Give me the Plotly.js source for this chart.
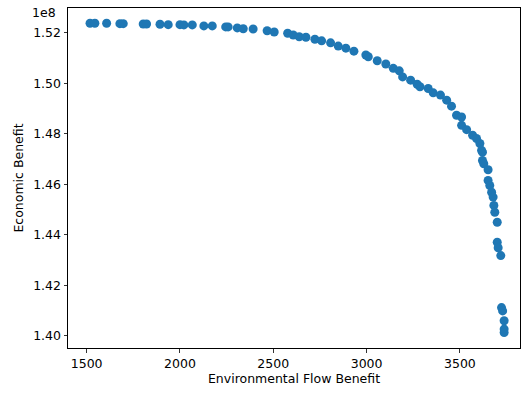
<!DOCTYPE html>
<html>
<head>
<meta charset="utf-8">
<script src="https://cdn.plot.ly/plotly-3.0.1.min.js"></script>
<style>html,body{margin:0;padding:0;background:#fff;}#chart{width:522px;height:394px;}</style>
</head>
<body>
<div id="chart"></div>
<script>
// Environmental flow benefit (x) and economic benefit (y, in units of 1e8)
const envFlow = [1518,1544,1607,1678,1696,1803,1821,1893,1937,2000,2021,2066,2128,2173,2245,2258,2307,2339,2392,2467,2505,2577,2607,2639,2675,2723,2759,2807,2848,2889,2932,2996,3009,3057,3103,3143,3175,3193,3236,3271,3286,3330,3357,3396,3429,3455,3482,3509,3509,3536,3568,3589,3607,3616,3621,3621,3628,3651,3651,3660,3670,3678,3682,3687,3700,3700,3705,3719,3723,3729,3737,3737,3737];
const econBenefit = [1.52385,1.52385,1.52385,1.5237,1.5237,1.52358,1.52358,1.52346,1.5233,1.5233,1.5232,1.5232,1.5228,1.5228,1.5224,1.5224,1.5220,1.5217,1.5216,1.5209,1.5204,1.5199,1.5192,1.5185,1.5183,1.5175,1.5169,1.5161,1.5148,1.5140,1.5128,1.5113,1.5106,1.5090,1.5077,1.5060,1.5050,1.5026,1.5013,1.4997,1.4987,1.4980,1.4963,1.4954,1.4934,1.4910,1.4874,1.4867,1.4834,1.4817,1.4795,1.4782,1.4762,1.4735,1.4728,1.4695,1.4682,1.4658,1.4616,1.4596,1.4569,1.4550,1.4517,1.4490,1.4450,1.4371,1.4349,1.4318,1.4112,1.4099,1.4060,1.4027,1.4013];
const xTicks = [1500,2000,2500,3000,3500];
const yTicks = [1.40,1.42,1.44,1.46,1.48,1.50,1.52];

const font = {family: 'DejaVu Sans', size: 12.5, color: '#000'};
const trace = {
  x: envFlow, y: econBenefit, type: 'scatter', mode: 'markers',
  marker: {color: '#1f77b4', size: 9, line: {width: 0}}
};
const axisCommon = {
  showline: true, mirror: true, linecolor: '#000', linewidth: 1,
  ticks: 'outside', ticklen: 3.5, tickwidth: 0.8, tickcolor: '#000',
  showgrid: false, zeroline: false, tickfont: font
};
const layout = {
  width: 522, height: 394,
  margin: {l: 68, r: 2, t: 8, b: 46},
  paper_bgcolor: '#fff', plot_bgcolor: '#fff',
  font: font,
  showlegend: false,
  xaxis: Object.assign({}, axisCommon, {
    range: [1400, 3822], tickvals: xTicks,
    title: {text: 'Environmental Flow Benefit', font: font, standoff: 4}
  }),
  yaxis: Object.assign({}, axisCommon, {
    range: [1.3952, 1.5299], tickvals: yTicks, tickformat: '.2f',
    title: {text: 'Economic Benefit', font: font, standoff: 6}
  }),
  annotations: [{
    text: '1e8', xref: 'paper', yref: 'paper', x: 0, y: 1,
    xanchor: 'right', yanchor: 'middle', xshift: -10, yshift: -4.5,
    showarrow: false, font: font
  }]
};
Plotly.newPlot('chart', [trace], layout, {displayModeBar: false, staticPlot: true});
</script>
</body>
</html>
